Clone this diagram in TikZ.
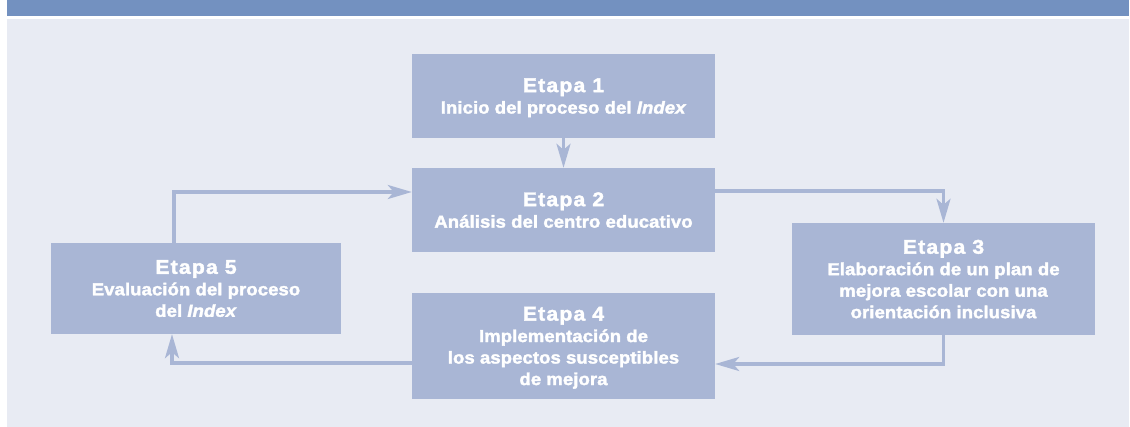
\documentclass[tikz,border=0pt]{standalone}
\usepackage{fontspec}
\setmainfont{Liberation Sans}
\newfontfamily\boxfont{Liberation Sans}[FakeStretch=1.07,LetterSpace=0.5,FakeBold=2]
\newfontfamily\titlefont{Liberation Sans}[FakeStretch=1.07,LetterSpace=6,FakeBold=2]
\usetikzlibrary{arrows.meta}
\definecolor{bandblue}{RGB}{115,145,192}
\definecolor{lightbg}{RGB}{232,235,243}
\definecolor{boxblue}{RGB}{169,182,213}
\tikzset{
  stage/.style={fill=boxblue, draw=none, inner sep=0pt, align=center, text=white,
    text depth=0pt,
    font=\boxfont\bfseries\fontsize{17.3}{21.5}\selectfont},
  conn/.style={draw=boxblue, line width=3.2pt,
    -{Stealth[length=24pt,width=14pt,inset=6pt]}},
}
\newcommand{\etapa}[1]{{\titlefont\bfseries\fontsize{19.8}{22}\selectfont Etapa #1}}
\begin{document}
\begin{tikzpicture}[x=1pt,y=-1pt]
\useasboundingbox (0,0) rectangle (1130,427);
\fill[white] (0,0) rectangle (1130,427);
\fill[bandblue] (7,0) rectangle (1129,15.7);
\fill[lightbg] (7,19) rectangle (1129,427);

\node[stage, minimum width=303pt, minimum height=84pt] (b1) at (563.5,96)
  {\etapa{1}\\Inicio del proceso del \textit{Index}};
\node[stage, minimum width=303pt, minimum height=84pt] (b2) at (563.5,210)
  {\etapa{2}\\Análisis del centro educativo};
\node[stage, minimum width=303pt, minimum height=112pt] (b3) at (943.5,279)
  {\etapa{3}\\Elaboración de un plan de\\mejora escolar con una\\orientación inclusiva};
\node[stage, minimum width=303pt, minimum height=106pt] (b4) at (563.5,346)
  {\etapa{4}\\Implementación de\\los aspectos susceptibles\\de mejora};
\node[stage, minimum width=290pt, minimum height=91pt] (b5) at (196,288.5)
  {\etapa{5}\\Evaluación del proceso\\del \textit{Index}};

\draw[conn] (b1.south) -- (b2.north);
\draw[conn] ([yshift=19pt]b2.east) -| (b3.north);
\draw[conn] (b3.south) |- ([yshift=-18pt]b4.east);
\draw[conn] ([yshift=-17pt]b4.west) -| ([xshift=-24pt]b5.south);
\draw[conn] ([xshift=-22pt]b5.north) |- ([yshift=18pt]b2.west);
\end{tikzpicture}
\end{document}
